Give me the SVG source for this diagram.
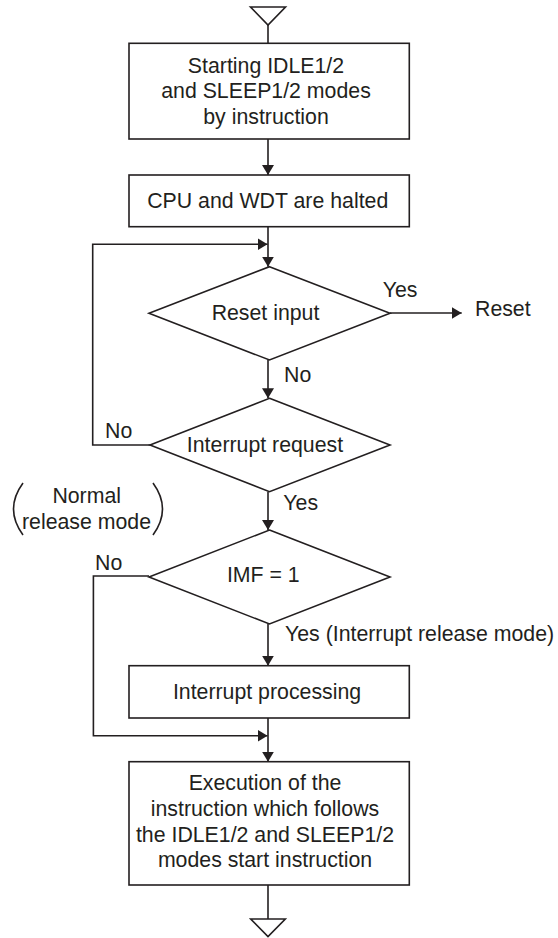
<svg xmlns="http://www.w3.org/2000/svg" width="558" height="938" viewBox="0 0 558 938">
<defs>
<marker id="ah" viewBox="0 0 10 12" refX="10" refY="6" markerWidth="10" markerHeight="12" markerUnits="userSpaceOnUse" orient="auto">
<path d="M0,0 L10,6 L0,12 Z" fill="#231f20"/>
</marker>
<style>
.s{fill:#fff;stroke:#231f20;stroke-width:1.6}
.c{fill:none;stroke:#231f20;stroke-width:1.6}
.t{font-family:"Liberation Sans",Arial,sans-serif;font-size:21.3px;fill:#231f20}
.m{text-anchor:middle}
</style>
</defs>
<g id="connectors">
<path class="c" d="M268,25 V43.3"/>
<path class="c" d="M268,139 V175" marker-end="url(#ah)"/>
<path class="c" d="M268,226.7 V266.7" marker-end="url(#ah)"/>
<path class="c" d="M150,445 H92.7 V244.3 H267.5" marker-end="url(#ah)"/>
<path class="c" d="M390,313 H461.7" marker-end="url(#ah)"/>
<path class="c" d="M268,360 V398.3" marker-end="url(#ah)"/>
<path class="c" d="M268,491.7 V530" marker-end="url(#ah)"/>
<path class="c" d="M149,576 H93.4 V735.7 H267.5" marker-end="url(#ah)"/>
<path class="c" d="M268,624 V665.7" marker-end="url(#ah)"/>
<path class="c" d="M268,718 V761.7" marker-end="url(#ah)"/>
<path class="c" d="M268,885 V919"/>
<text class="t" x="382.7" y="296.7">Yes</text>
<text class="t" x="475" y="315.7">Reset</text>
<text class="t" x="284" y="382.3">No</text>
<text class="t" x="105" y="438.3">No</text>
<text class="t" x="283.3" y="510">Yes</text>
<text class="t" x="95" y="570">No</text>
<text class="t" x="285" y="641">Yes (Interrupt release mode)</text>
</g>
<g id="start">
<path class="c" d="M250.5,7 H285.5 L268,25 Z"/>
</g>
<g id="box1">
<rect class="s" x="129" y="43.3" width="280.3" height="95.7"/>
<text class="t m" x="266" y="72.7">Starting IDLE1/2</text>
<text class="t m" x="266" y="98.3">and SLEEP1/2 modes</text>
<text class="t m" x="266" y="123.6">by instruction</text>
</g>
<g id="box2">
<rect class="s" x="129" y="175" width="280.3" height="51.7"/>
<text class="t m" x="267.7" y="208.3">CPU and WDT are halted</text>
</g>
<g id="reset">
<path class="s" d="M269.5,266.7 L390,313.3 L269.5,360 L149,313.3 Z"/>
<text class="t m" x="265.5" y="320">Reset input</text>
</g>
<g id="interrupt">
<path class="s" d="M269.5,398.3 L390,445 L269.5,491.7 L150,445 Z"/>
<text class="t m" x="265" y="451.7">Interrupt request</text>
</g>
<g id="normal-note">
<path class="c" d="M23,483 Q4,509 23,535"/>
<path class="c" d="M153,483 Q172,509 153,535"/>
<text class="t m" x="86.7" y="503.3">Normal</text>
<text class="t m" x="86.5" y="529.3">release mode</text>
</g>
<g id="imf">
<path class="s" d="M269.5,530 L390,577 L269.5,624 L149,577 Z"/>
<text class="t m" x="263.3" y="581.7">IMF = 1</text>
</g>
<g id="intproc">
<rect class="s" x="129" y="665.7" width="280.3" height="52.3"/>
<text class="t m" x="267" y="698.8">Interrupt processing</text>
</g>
<g id="exec">
<rect class="s" x="129" y="761.7" width="280.3" height="123.3"/>
<text class="t m" x="265" y="790.3">Execution of the</text>
<text class="t m" x="265" y="816">instruction which follows</text>
<text class="t m" x="265" y="841.7">the IDLE1/2 and SLEEP1/2</text>
<text class="t m" x="265" y="867.3">modes start instruction</text>
</g>
<g id="end">
<path class="c" d="M250.7,919 H285.3 L268,936.5 Z"/>
</g>
</svg>
